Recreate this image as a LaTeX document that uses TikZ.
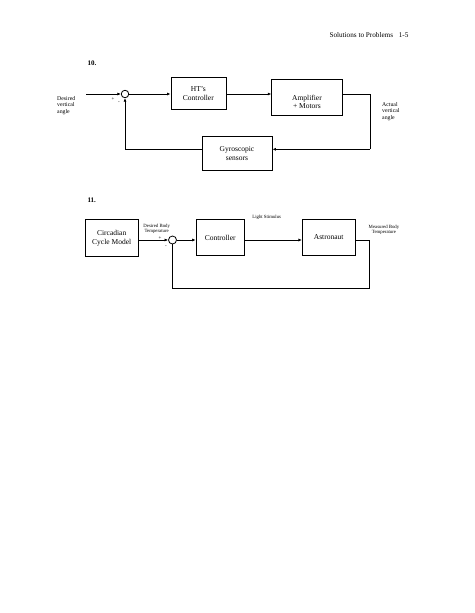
\documentclass[tikz,border=0pt]{standalone}
\usepackage{fontspec}
\setmainfont{Liberation Serif}
\usetikzlibrary{arrows.meta}
\begin{document}
\begin{tikzpicture}[x=1pt,y=-1pt,
  blk/.style={draw,thick,align=center,font=\fontsize{7.5}{8.5}\selectfont,inner sep=0pt},
  btxt/.style={align=center,font=\fontsize{7.5}{8.5}\selectfont,inner sep=0pt},
  sumc/.style={draw,thick,circle,minimum size=7.5pt,inner sep=0pt},
  lab/.style={font=\fontsize{5.8}{6.6}\selectfont,align=left,inner sep=0pt},
  slab/.style={font=\fontsize{4.8}{5.5}\selectfont,align=center,inner sep=0pt},
  sig/.style={thick,-{Latex[length=3.5pt,width=3pt]}},
  wire/.style={thick}]
\useasboundingbox (0,0) rectangle (474,613);
\node[font=\fontsize{7.2}{8}\selectfont,anchor=base east] (hdr) at (412,37) {Solutions to Problems\hspace{0.8em}1-5};
% Problem 10
\node[font=\bfseries\fontsize{7}{8}\selectfont,anchor=base west] (p10) at (84,65) {10.};
\coordinate (in10) at (86,94);
\node[sumc] (s10) at (125,94) {};
\node[blk,minimum width=55pt,minimum height=32pt] (ht) at (198.4,93.3) {HT's\\Controller};
\node[blk,minimum width=70.6pt,minimum height=35.7pt] (amp) at (307,97.2) {};
\node[btxt] (ampt) at (307,102) {Amplifier\\+ Motors};
\node[blk,minimum width=70pt,minimum height=34.7pt] (gyro) at (237,153.4) {Gyroscopic\\sensors};
\node[lab,anchor=north west] (dva) at (57,96) {Desired\\vertical\\angle};
\node[lab,anchor=north west] (ava) at (382,102) {Actual\\vertical\\angle};
\node[font=\fontsize{5}{6}\selectfont,inner sep=0pt] (pl10) at (113,99) {+};
\node[font=\fontsize{5}{6}\selectfont,inner sep=0pt] (mi10) at (119,103) {-};
\coordinate (r10) at (370,94);
\coordinate (rb10) at (370,149.3);
\coordinate (lb10) at (125,149.3);
\draw[sig] (in10) -- (s10);
\draw[sig] (s10) -- (s10 -| ht.west);
\draw[sig] (ht.east |- 0,94) -- (amp.west |- 0,94);
\draw[wire] (amp.east |- 0,94) -- (r10) -- (rb10);
\draw[sig] (rb10) -- (gyro.east |- rb10);
\draw[wire] (gyro.west |- lb10) -- (lb10);
\draw[sig] (lb10) -- (s10.south);
% Problem 11
\node[font=\bfseries\fontsize{7}{8}\selectfont,anchor=base west] (p11) at (84,202.5) {11.};
\node[blk,minimum width=53.3pt,minimum height=37.4pt] (circ) at (111.7,238) {Circadian\\Cycle Model};
\node[sumc,minimum size=8pt] (s11) at (172.5,240) {};
\node[blk,minimum width=48.3pt,minimum height=36.4pt] (ctrl) at (220.2,237.5) {Controller};
\node[blk,minimum width=52.7pt,minimum height=36.4pt] (astro) at (328.7,237.5) {Astronaut};
\node[slab] (dbt) at (156.7,229) {Desired Body\\Temperature};
\node[slab] (ls) at (266.7,217.5) {Light Stimulus};
\node[slab] (mbt) at (384,230) {Measured Body\\Temperature};
\node[font=\fontsize{5}{6}\selectfont,inner sep=0pt] (pl11) at (160,238) {+};
\node[font=\fontsize{5}{6}\selectfont,inner sep=0pt] (mi11) at (166,247) {-};
\coordinate (r11) at (369.3,240);
\coordinate (rb11) at (369.3,288.3);
\coordinate (lb11) at (172.5,288.3);
\draw[sig] (circ.east |- s11) -- (s11);
\draw[sig] (s11) -- (ctrl.west |- s11);
\draw[sig] (ctrl.east |- s11) -- (astro.west |- s11);
\draw[wire] (astro.east |- s11) -- (r11) -- (rb11) -- (lb11) -- (s11.south);
\end{tikzpicture}
\end{document}
